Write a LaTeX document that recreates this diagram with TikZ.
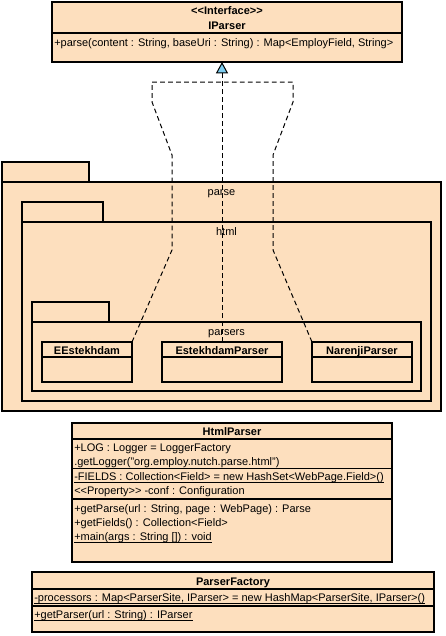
\documentclass[tikz,border=0pt]{standalone}
\usepackage{fontspec}
\setmainfont{Liberation Sans}
\usetikzlibrary{arrows.meta}
\definecolor{peach}{RGB}{253,223,190}
\definecolor{tipblue}{RGB}{125,205,240}
\begin{document}
\begin{tikzpicture}[x=0.75pt,y=-0.75pt,
  font=\fontsize{8.25}{10}\selectfont,
  box/.style={draw=black, fill=peach, line width=0.8pt, anchor=north west, inner sep=0pt, outer sep=0pt},
  sep/.style={line width=0.8pt},
  uln/.style={line width=0.6pt},
  txt/.style={anchor=base west, inner sep=0pt},
  ctxt/.style={anchor=base, inner sep=0pt},
  bold/.style={font=\fontsize{8.25}{10}\selectfont\bfseries},
  realize/.style={line width=0.75pt, dash pattern=on 3.6pt off 2.4pt},
  realtip/.style={-{Triangle[length=8.5pt,width=9pt,fill=tipblue]}}
]
\useasboundingbox (0,0) rectangle (446,636);

% IParser
\node[box, minimum width=262.5pt, minimum height=45pt] (ip) at (52,2) {};
\draw[sep] (52,33) -- (402,33);
\node[ctxt, bold] (ipst) at (227,14) {<{}<Interface>{}>};
\node[ctxt, bold] (ipname) at (227,29) {IParser};
\node[txt] (ipm) at (54,46) {+parse(content : String, baseUri : String) : Map<EmployField, String>};

% package parse
\node[box, minimum width=65.25pt, minimum height=15pt] (parsetab) at (2,162) {};
\node[box, minimum width=329.25pt, minimum height=171.75pt] (parse) at (2,182) {};
\node[ctxt] (parselbl) at (221.5,195) {parse};

% package html
\node[box, minimum width=60.75pt, minimum height=15pt] (htmltab) at (22,202) {};
\node[box, minimum width=306.75pt, minimum height=134.25pt] (html) at (22,222) {};
\node[ctxt] (htmllbl) at (226.5,235) {html};

% package parsers
\node[box, minimum width=57.75pt, minimum height=15pt] (parserstab) at (32,302) {};
\node[box, minimum width=291.75pt, minimum height=51.75pt] (parsers) at (32,322) {};
\node[ctxt] (parserslbl) at (226.5,335) {parsers};

% classes in parsers
\node[box, minimum width=67.5pt, minimum height=30pt] (ee) at (42,342) {};
\draw[sep] (42,357) -- (132,357);
\node[ctxt, bold] (eename) at (87,354) {EEstekhdam};

\node[box, minimum width=90pt, minimum height=30pt] (ep) at (162,342) {};
\draw[sep] (162,357) -- (282,357);
\node[ctxt, bold] (epname) at (222,354) {EstekhdamParser};

\node[box, minimum width=75pt, minimum height=30pt] (np) at (312,342) {};
\draw[sep] (312,357) -- (412,357);
\node[ctxt, bold] (npname) at (362,354) {NarenjiParser};

% HtmlParser
\node[box, minimum width=240pt, minimum height=104.25pt] (hp) at (72,423) {};
\node[ctxt, bold] (hpname) at (232,435) {HtmlParser};
\draw[sep] (72,439) -- (392,439);
\node[txt] (hpa1) at (74,451) {+LOG : Logger = LoggerFactory};
\node[txt] (hpa2) at (74,465) {.getLogger("org.employ.nutch.parse.html")};
\draw[uln] (72,468) -- (392,468);
\node[txt] (hpa3) at (74,480) {-FIELDS : Collection<Field> = new HashSet<WebPage.Field>()};
\draw[uln] ([yshift=-1.6pt]hpa3.base west) -- ([yshift=-1.6pt]hpa3.base east);
\node[txt] (hpa4) at (74,494) {<{}<Property>{}> -conf : Configuration};
\draw[sep] (72,499) -- (392,499);
\node[txt] (hpm1) at (74,512) {+getParse(url : String, page : WebPage) : Parse};
\node[txt] (hpm2) at (74,526) {+getFields() : Collection<Field>};
\node[txt] (hpm3) at (74,540) {+main(args : String []) : void};
\draw[uln] ([yshift=-1.6pt]hpm3.base west) -- ([yshift=-1.6pt]hpm3.base east);

% ParserFactory
\node[box, minimum width=301.5pt, minimum height=45pt] (pf) at (32,572) {};
\node[ctxt, bold] (pfname) at (233,585) {ParserFactory};
\draw[sep] (32,589) -- (434,589);
\node[txt] (pfa1) at (34,601) {-processors : Map<ParserSite, IParser> = new HashMap<ParserSite, IParser>()};
\draw[uln] ([yshift=-1.6pt]pfa1.base west) -- ([yshift=-1.6pt]pfa1.base east);
\draw[sep] (32,606) -- (434,606);
\node[txt] (pfm1) at (34,618) {+getParser(url : String) : IParser};
\draw[uln] ([yshift=-1.6pt]pfm1.base west) -- ([yshift=-1.6pt]pfm1.base east);

% realizations
\coordinate (jn) at (222,82);
\draw[realize, realtip] (ep.north) -- (ep.north |- ip.south);
\draw[realize] (ee.north east) -- (172,250) -- (172,155) -- (152,102) -- (152,82) -- (jn);
\draw[realize] (np.north west) -- (273,250) -- (273,155) -- (293,102) -- (293,82) -- (jn);
\end{tikzpicture}
\end{document}
